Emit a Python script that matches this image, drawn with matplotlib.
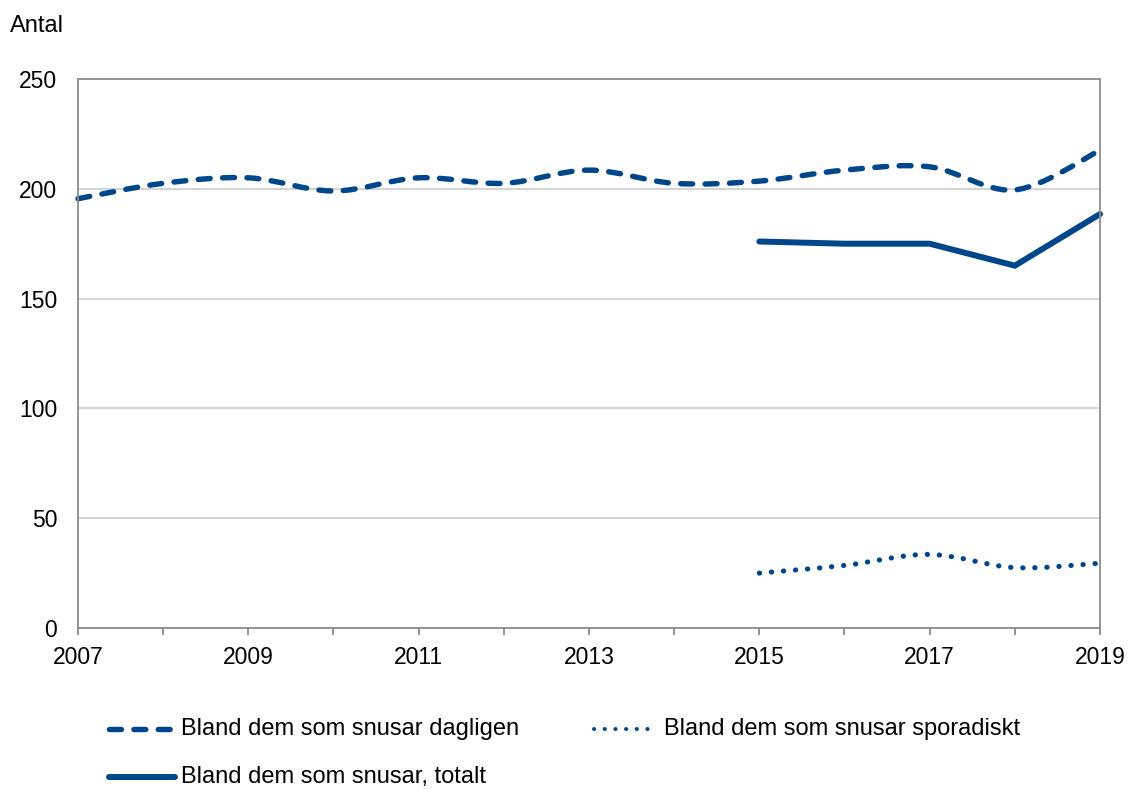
import matplotlib
matplotlib.use("Agg")
import matplotlib.pyplot as plt
import numpy as np
from matplotlib.path import Path
from matplotlib.patches import PathPatch
from matplotlib.lines import Line2D

plt.rcParams['font.family'] = ['Liberation Sans', 'DejaVu Sans']

years = list(range(2007, 2020))
dagligen = [195.5, 202.5, 205, 199, 205, 202.5, 208.5, 202.5, 203.5, 208.5, 210, 199.5, 217.5]
years_new = [2015, 2016, 2017, 2018, 2019]
totalt = [176, 175, 175, 165, 188.5]
sporadiskt = [25, 28.5, 33.5, 27.5, 29.5]
labels = ["Bland dem som snusar dagligen", "Bland dem som snusar sporadiskt",
          "Bland dem som snusar, totalt"]
color = '#00468B'

DASH_LW, DASH = 3.9, (2.2, 2.3)
DOT_LW, DOT = 3.7, (0.05, 2.3)
SOLID_LW = 4.3
FS = 16.5
FS_LEG = 17


def smooth_path(xs, ys, t=1/6):
    """Catmull-Rom-like bezier path through the data points (Excel smoothing)."""
    xs = np.asarray(xs, float); ys = np.asarray(ys, float)
    n = len(xs)
    verts = [(xs[0], ys[0])]
    codes = [Path.MOVETO]
    for i in range(n - 1):
        p0 = (xs[max(i - 1, 0)], ys[max(i - 1, 0)])
        p1 = (xs[i], ys[i])
        p2 = (xs[i + 1], ys[i + 1])
        p3 = (xs[min(i + 2, n - 1)], ys[min(i + 2, n - 1)])
        c1 = (p1[0] + (p2[0] - p0[0]) * t, p1[1] + (p2[1] - p0[1]) * t)
        c2 = (p2[0] - (p3[0] - p1[0]) * t, p2[1] - (p3[1] - p1[1]) * t)
        verts += [c1, c2, p2]
        codes += [Path.CURVE4] * 3
    return Path(verts, codes)


fig = plt.figure(figsize=(11.29, 7.89), dpi=100)
ax = fig.add_axes([78/1129, 1 - 628/789, (1100 - 78)/1129, (628 - 79)/789])

ax.set_xlim(2007, 2019)
ax.set_ylim(0, 250)
ax.set_yticks([0, 50, 100, 150, 200, 250])
ax.set_xticks(list(range(2007, 2020, 2)))
ax.set_xticks(years, minor=True)
ax.grid(axis='y', color='#d0d0d0', linewidth=1.3)
ax.set_axisbelow(True)
for s in ax.spines.values():
    s.set_color('#8c8c8c')
    s.set_linewidth(1.3)
ax.tick_params(axis='both', which='both', labelsize=FS, color='#8c8c8c', width=1.3)
ax.tick_params(axis='x', which='both', direction='out', length=5, pad=8)
ax.tick_params(axis='y', length=0, pad=15)

p1 = PathPatch(smooth_path(years, dagligen), facecolor='none', edgecolor=color,
               linewidth=DASH_LW, linestyle=(0, DASH), capstyle='round', clip_on=False)
ax.add_patch(p1)
p2 = PathPatch(smooth_path(years_new, sporadiskt), facecolor='none', edgecolor=color,
               linewidth=DOT_LW, linestyle=(0, DOT), capstyle='round', clip_on=False)
ax.add_patch(p2)
ax.plot(years_new, totalt, color=color, linewidth=SOLID_LW, solid_capstyle='round',
        solid_joinstyle='miter', clip_on=False)

fig.text(10/1129, 1 - 26/789, "Antal", fontsize=FS_LEG, va='center', ha='left')

# legend
def legend_entry(x0, x1, y, text, **kw):
    fig.add_artist(Line2D([x0/1129, x1/1129], [1 - y/789, 1 - y/789], color=color, **kw))
    fig.text((x1 + 6)/1129, 1 - y/789, text, fontsize=FS_LEG, va='center', ha='left')

legend_entry(109, 175, 729, labels[0], linewidth=DASH_LW, dashes=DASH, dash_capstyle='round')
legend_entry(594, 658, 729, labels[1], linewidth=DOT_LW - 0.8, dashes=(0.05, 2.6), dash_capstyle='round')
legend_entry(109, 175, 777, labels[2], linewidth=SOLID_LW, solid_capstyle='round')

fig.savefig("out.png", dpi=100)
